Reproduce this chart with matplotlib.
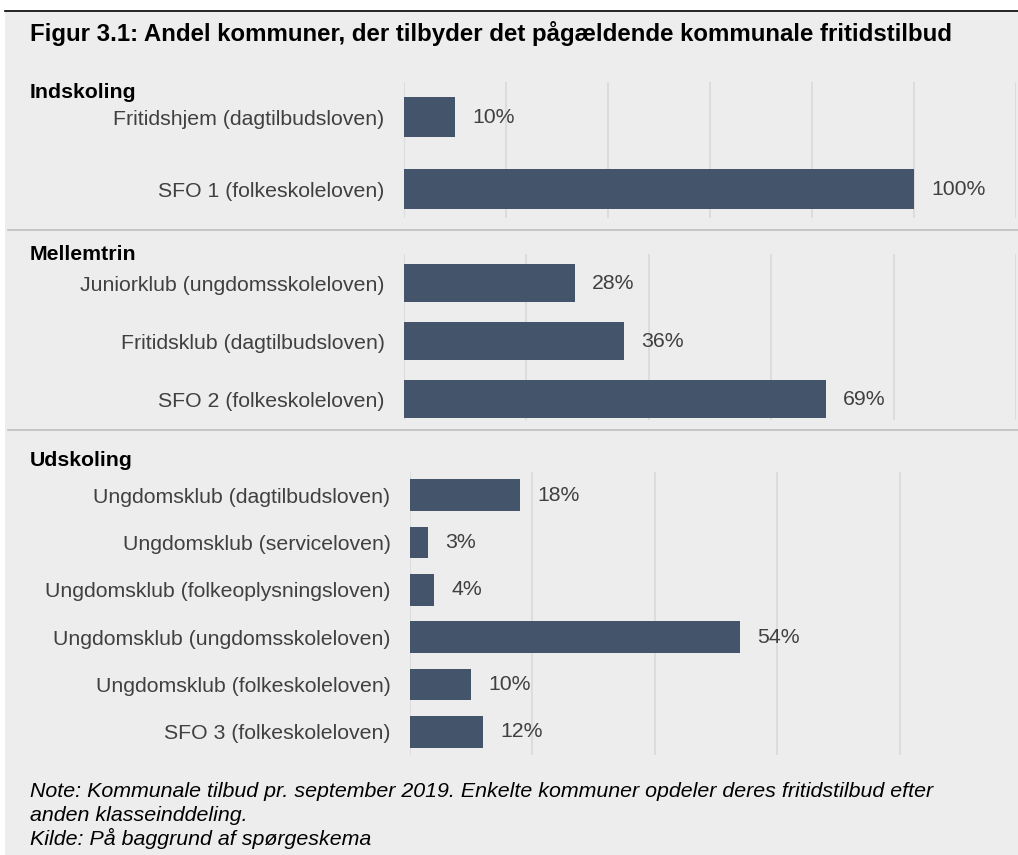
import matplotlib
matplotlib.use("Agg")
import matplotlib.pyplot as plt
from matplotlib.patches import Rectangle
from matplotlib.lines import Line2D

plt.rcParams['font.family'] = ['Liberation Sans', 'DejaVu Sans']

title = "Figur 3.1: Andel kommuner, der tilbyder det pågældende kommunale fritidstilbud"

groups = ["Indskoling", "Mellemtrin", "Udskoling"]

indskoling_labels = ["Fritidshjem (dagtilbudsloven)", "SFO 1 (folkeskoleloven)"]
indskoling_values = [10, 100]

mellemtrin_labels = ["Juniorklub (ungdomsskoleloven)", "Fritidsklub (dagtilbudsloven)",
                     "SFO 2 (folkeskoleloven)"]
mellemtrin_values = [28, 36, 69]

udskoling_labels = ["Ungdomsklub (dagtilbudsloven)", "Ungdomsklub (serviceloven)",
                    "Ungdomsklub (folkeoplysningsloven)", "Ungdomsklub (ungdomsskoleloven)",
                    "Ungdomsklub (folkeskoleloven)", "SFO 3 (folkeskoleloven)"]
udskoling_values = [18, 3, 4, 54, 10, 12]

note_lines = ["Note: Kommunale tilbud pr. september 2019. Enkelte kommuner opdeler deres fritidstilbud efter",
              "anden klasseinddeling.",
              "Kilde: På baggrund af spørgeskema"]

W, H = 1018, 855
BG = "#EDEDED"
BAR = "#44546A"
GRID = "#D9D9D9"
TXT = "#404040"
FS = 15.3

fig = plt.figure(figsize=(W / 100, H / 100), dpi=100)
fig.patch.set_facecolor("white")

def fx(x):
    return x / W

def fy(y):
    return 1 - y / H

# gray background panel
fig.add_artist(Rectangle((fx(5), 0), 1, fy(11), transform=fig.transFigure,
                         facecolor=BG, edgecolor="none", zorder=0))
fig.add_artist(Line2D([fx(5), 1], [fy(11), fy(11)], transform=fig.transFigure,
                      color="black", lw=1.2))
for yy in (230, 430):
    fig.add_artist(Line2D([fx(8), 1], [fy(yy), fy(yy)], transform=fig.transFigure,
                          color="#BFBFBF", lw=1.2))

fig.text(fx(30), fy(34), title, fontsize=17.3, fontweight="bold", va="center", ha="left")

panels = [
    # labels, values, x0, x1, xmax, ytop, ybottom, ylim, header y, barh, ticks
    (indskoling_labels, indskoling_values, 404, 1016, 120, 82, 218, (-0.40, 1.49), 92, 0.55,
     [0, 20, 40, 60, 80, 100, 120]),
    (mellemtrin_labels, mellemtrin_values, 404, 1016, 100, 254, 420, (-0.36, 2.5), 254, 0.65,
     [0, 20, 40, 60, 80, 100]),
    (udskoling_labels, udskoling_values, 410, 1022, 100, 472, 755, (-0.49, 5.49), 460, 0.67,
     [0, 20, 40, 60, 80, 100]),
]

for (labels, values, x0, x1, xmax, yt, yb, ylim, hy, bh, ticks), gname in zip(panels, groups):
    ax = fig.add_axes([fx(x0), fy(yb), (x1 - x0) / W, (yb - yt) / H])
    ax.set_facecolor("none")
    n = len(labels)
    pos = list(range(n - 1, -1, -1))
    ax.barh(pos, values, height=bh, color=BAR, zorder=3)
    ax.set_xlim(0, xmax)
    ax.set_ylim(*ylim)
    ax.set_xticks(ticks)
    ax.set_xticklabels([])
    ax.grid(axis="x", color=GRID, lw=1.2, zorder=0)
    ax.set_yticks(pos)
    ax.set_yticklabels(labels, fontsize=FS, color=TXT)
    ax.tick_params(axis="y", length=0, pad=14)
    ax.tick_params(axis="x", length=0)
    for s in ax.spines.values():
        s.set_visible(False)
    for p, v in zip(pos, values):
        ax.annotate(f"{v}%", (v, p), xytext=(12.2, 0), textcoords="offset points",
                    va="center", ha="left", fontsize=FS, color=TXT)
    fig.text(fx(30), fy(hy), gname, fontsize=FS, fontweight="bold", va="center", ha="left")

for i, (line, yy) in enumerate(zip(note_lines, (791, 815, 838))):
    fig.text(fx(30), fy(yy), line, fontsize=15.4, fontstyle="italic", va="center", ha="left")

fig.savefig("out.png", dpi=100, facecolor=fig.get_facecolor())
